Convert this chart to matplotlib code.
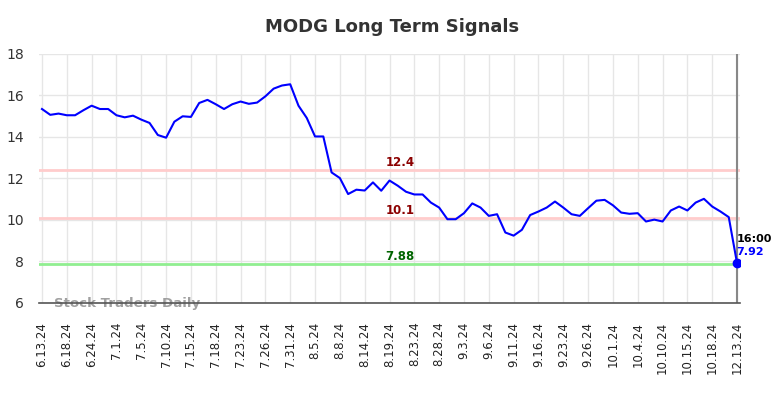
import matplotlib
matplotlib.use("Agg")
import matplotlib.pyplot as plt

tick_labels = ["6.13.24", "6.18.24", "6.24.24", "7.1.24", "7.5.24", "7.10.24", "7.15.24",
               "7.18.24", "7.23.24", "7.26.24", "7.31.24", "8.5.24", "8.8.24", "8.14.24",
               "8.19.24", "8.23.24", "8.28.24", "9.3.24", "9.6.24", "9.11.24", "9.16.24",
               "9.23.24", "9.26.24", "10.1.24", "10.4.24", "10.10.24", "10.15.24",
               "10.18.24", "12.13.24"]

prices = [15.33, 15.05, 15.11, 15.03, 15.03, 15.27, 15.49, 15.33, 15.33, 15.03,
          14.93, 15.01, 14.82, 14.66, 14.08, 13.95, 14.72, 14.98, 14.95, 15.62,
          15.77, 15.56, 15.33, 15.56, 15.69, 15.58, 15.64, 15.94, 16.31, 16.46,
          16.52, 15.49, 14.90, 14.01, 14.01, 12.28, 12.01, 11.24, 11.45, 11.41,
          11.80, 11.40, 11.89, 11.64, 11.35, 11.22, 11.22, 10.83, 10.59, 10.03,
          10.03, 10.32, 10.79, 10.59, 10.19, 10.27, 9.39, 9.24, 9.52, 10.23,
          10.40, 10.59, 10.88, 10.59, 10.27, 10.19, 10.56, 10.92, 10.96, 10.70,
          10.35, 10.29, 10.32, 9.92, 10.01, 9.92, 10.45, 10.64, 10.45, 10.83,
          11.01, 10.64, 10.40, 10.13, 7.92]

levels = [12.4, 10.1, 7.88]
level_line_colors = ["#ffcccc", "#ffcccc", "#90ee90"]
level_text_colors = ["#8b0000", "#8b0000", "#006400"]
level_labels = ["12.4", "10.1", "7.88"]

last_time = "16:00"

fig = plt.figure(figsize=(7.84, 3.98), dpi=100)
ax = fig.add_axes([39/784, 1 - 303/398, (740 - 39)/784, (303 - 53.5)/398])

x = list(range(len(prices)))
n = len(prices) - 1

ax.set_xlim(-0.36, n + 0.36)
ax.set_ylim(6, 18)
ax.set_yticks([6, 8, 10, 12, 14, 16, 18])
ticks = list(range(0, n + 1, 3))
ax.set_xticks(ticks)
ax.set_xticklabels(tick_labels, rotation=90, fontsize=8.5, color="#222222")
ax.tick_params(axis="y", labelsize=10, colors="#333333", length=0, pad=11)
ax.tick_params(axis="x", length=0, pad=13.5)

ax.grid(True, color="#e6e6e6", linewidth=1)
ax.set_axisbelow(True)
for s in ["top", "left", "right"]:
    ax.spines[s].set_visible(False)
ax.spines["bottom"].set_color("#555555")
ax.spines["bottom"].set_linewidth(1.2)
ax.spines["bottom"].set_zorder(6)

for lv, lc, tc, lb in zip(levels, level_line_colors, level_text_colors, level_labels):
    ax.axhline(lv, color=lc, linewidth=2, zorder=1)
    ax.text(n * 0.515, lv + 0.17, lb, color=tc, fontsize=8.5, fontweight="bold",
            ha="center", va="baseline")

ax.axvline(n, color="#888888", linewidth=1.5, zorder=2)

ax.plot(x, prices, color="#0000ff", linewidth=1.5, zorder=3)
ax.plot([n], [prices[-1]], marker="o", color="#0000ff", markersize=6, zorder=4)

ax.text(n - 0.1, prices[-1] + 1.14, last_time, color="black", fontsize=8,
        fontweight="bold", ha="left", va="center")
ax.text(n - 0.1, prices[-1] + 0.51, f"{prices[-1]:.2f}", color="#0000ff", fontsize=8,
        fontweight="bold", ha="left", va="center")

ax.text(1.45, 5.98, "Stock Traders Daily", color="#a0a0a0", fontsize=9.6,
        fontweight="bold", ha="left", va="center", zorder=5, clip_on=False)

fig.suptitle("MODG Long Term Signals", x=0.5, y=0.955, fontsize=13,
             fontweight="bold", color="#333333")

fig.savefig("out.png", dpi=100)
